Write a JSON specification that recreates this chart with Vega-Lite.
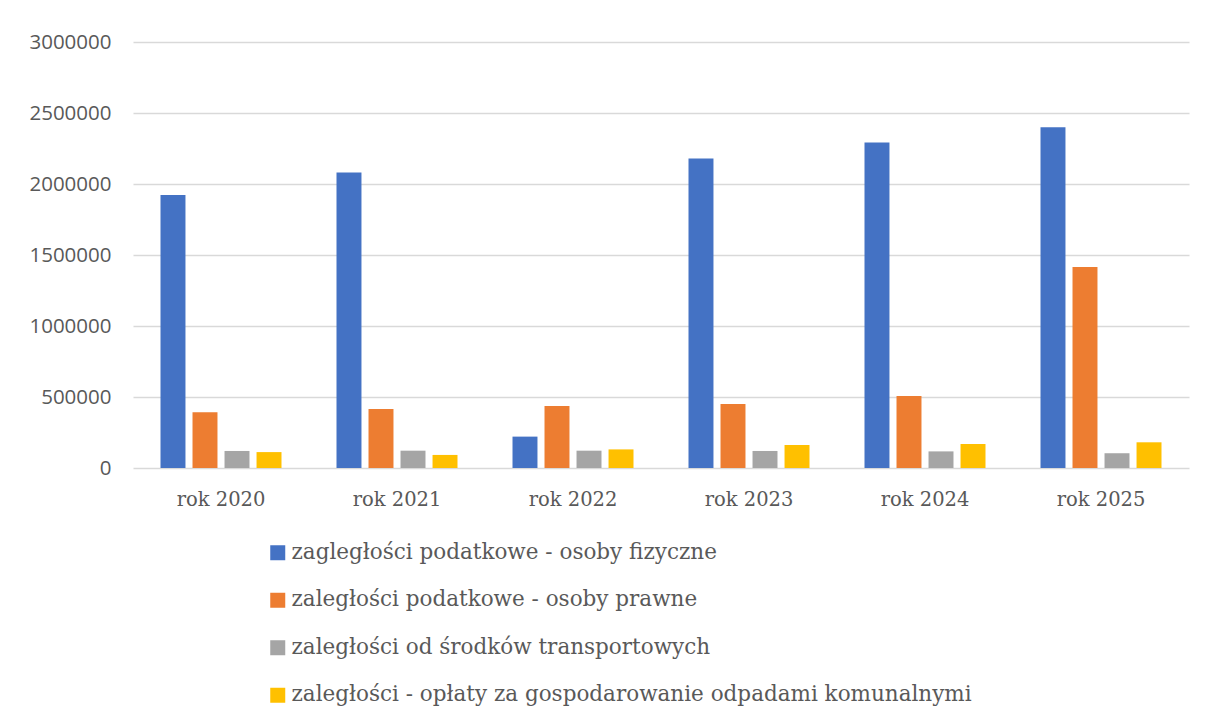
{
  "$schema": "https://vega.github.io/schema/vega-lite/v6.json",
  "autosize": {"type": "none"},
  "padding": {"left": 133, "top": 42, "right": 16, "bottom": 250},
  "width": 1056,
  "height": 426,
  "background": "white",
  "data": {
    "values": [
      {"rok": "rok 2020", "kategoria": "zagległości podatkowe - osoby fizyczne", "kwota": 1922000},
      {"rok": "rok 2020", "kategoria": "zaległości podatkowe - osoby prawne", "kwota": 393000},
      {"rok": "rok 2020", "kategoria": "zaległości od środków transportowych", "kwota": 120000},
      {"rok": "rok 2020", "kategoria": "zaległości - opłaty za gospodarowanie odpadami komunalnymi", "kwota": 112000},
      {"rok": "rok 2021", "kategoria": "zagległości podatkowe - osoby fizyczne", "kwota": 2081000},
      {"rok": "rok 2021", "kategoria": "zaległości podatkowe - osoby prawne", "kwota": 416000},
      {"rok": "rok 2021", "kategoria": "zaległości od środków transportowych", "kwota": 122000},
      {"rok": "rok 2021", "kategoria": "zaległości - opłaty za gospodarowanie odpadami komunalnymi", "kwota": 92000},
      {"rok": "rok 2022", "kategoria": "zagległości podatkowe - osoby fizyczne", "kwota": 221000},
      {"rok": "rok 2022", "kategoria": "zaległości podatkowe - osoby prawne", "kwota": 437000},
      {"rok": "rok 2022", "kategoria": "zaległości od środków transportowych", "kwota": 122000},
      {"rok": "rok 2022", "kategoria": "zaległości - opłaty za gospodarowanie odpadami komunalnymi", "kwota": 131000},
      {"rok": "rok 2023", "kategoria": "zagległości podatkowe - osoby fizyczne", "kwota": 2180000},
      {"rok": "rok 2023", "kategoria": "zaległości podatkowe - osoby prawne", "kwota": 451000},
      {"rok": "rok 2023", "kategoria": "zaległości od środków transportowych", "kwota": 120000},
      {"rok": "rok 2023", "kategoria": "zaległości - opłaty za gospodarowanie odpadami komunalnymi", "kwota": 162000},
      {"rok": "rok 2024", "kategoria": "zagległości podatkowe - osoby fizyczne", "kwota": 2292000},
      {"rok": "rok 2024", "kategoria": "zaległości podatkowe - osoby prawne", "kwota": 507000},
      {"rok": "rok 2024", "kategoria": "zaległości od środków transportowych", "kwota": 117000},
      {"rok": "rok 2024", "kategoria": "zaległości - opłaty za gospodarowanie odpadami komunalnymi", "kwota": 169000},
      {"rok": "rok 2025", "kategoria": "zagległości podatkowe - osoby fizyczne", "kwota": 2399000},
      {"rok": "rok 2025", "kategoria": "zaległości podatkowe - osoby prawne", "kwota": 1415000},
      {"rok": "rok 2025", "kategoria": "zaległości od środków transportowych", "kwota": 104000},
      {"rok": "rok 2025", "kategoria": "zaległości - opłaty za gospodarowanie odpadami komunalnymi", "kwota": 181000}
    ]
  },
  "mark": {"type": "bar"},
  "encoding": {
    "x": {
      "field": "rok",
      "type": "nominal",
      "title": null,
      "scale": {"paddingInner": 0.3125, "paddingOuter": 0.15625},
      "axis": {
        "labelAngle": 0,
        "labelFont": "DejaVu Serif",
        "labelFontSize": 19.5,
        "labelColor": "#595959",
        "labelPadding": 22,
        "ticks": false,
        "domain": false,
        "grid": false
      }
    },
    "xOffset": {
      "field": "kategoria",
      "type": "nominal",
      "sort": [
        "zagległości podatkowe - osoby fizyczne",
        "zaległości podatkowe - osoby prawne",
        "zaległości od środków transportowych",
        "zaległości - opłaty za gospodarowanie odpadami komunalnymi"
      ],
      "scale": {"paddingInner": 0.22, "paddingOuter": 0}
    },
    "y": {
      "field": "kwota",
      "type": "quantitative",
      "title": null,
      "scale": {"domain": [0, 3000000], "nice": false},
      "axis": {
        "values": [0, 500000, 1000000, 1500000, 2000000, 2500000, 3000000],
        "format": "d",
        "labelFont": "Open Sans",
        "labelFontSize": 20.5,
        "labelColor": "#595959",
        "labelPadding": 22,
        "ticks": false,
        "domain": false,
        "gridColor": "#d9d9d9",
        "gridWidth": 1.5
      }
    },
    "color": {
      "field": "kategoria",
      "type": "nominal",
      "title": null,
      "sort": [
        "zagległości podatkowe - osoby fizyczne",
        "zaległości podatkowe - osoby prawne",
        "zaległości od środków transportowych",
        "zaległości - opłaty za gospodarowanie odpadami komunalnymi"
      ],
      "scale": {"range": ["#4472C4", "#ED7D31", "#A5A5A5", "#FFC000"]},
      "legend": {
        "orient": "none",
        "legendX": 134,
        "legendY": 500,
        "direction": "vertical",
        "symbolType": "square",
        "symbolSize": 225,
        "symbolStrokeWidth": 0,
        "labelFont": "DejaVu Serif",
        "labelFontSize": 21.5,
        "labelColor": "#595959",
        "labelOffset": 3,
        "labelLimit": 900,
        "rowPadding": 24.5,
        "padding": 0
      }
    }
  },
  "config": {"view": {"stroke": null}}
}
